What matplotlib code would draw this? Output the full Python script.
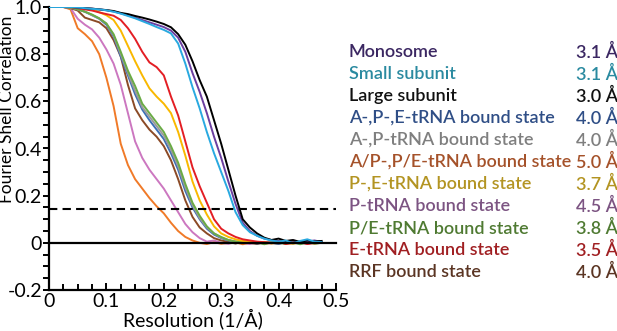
import numpy as np
import matplotlib
matplotlib.use("Agg")
import matplotlib.pyplot as plt

plt.rcParams['font.family'] = ['Lato', 'DejaVu Sans']

# resolution grid (1/A), FSC values
resolution = np.linspace(0, 0.475, 39)

fsc_monosome = [1.0, 1.0, 1.0, 1.0, .998, .995, .993, .99, .986, .981, .973, .965, .955, .945, .935, .925,
                .915, .90, .87, .81, .72, .64, .55, .45, .36, .26, .165, .085, .05, .03, .018, .012, .008,
                .004, .01, .002, .006, .01, .004]
fsc_small = [1.0, 1.0, 1.0, 1.0, .998, .995, .992, .99, .986, .98, .972, .962, .952, .94, .928, .915,
             .903, .888, .845, .76, .66, .57, .47, .38, .30, .22, .13, .075, .045, .03, .018, .01, .005,
             .01, -.002, .008, .015, .005, .003]
fsc_large = [1.0, 1.0, 1.0, 1.0, .998, .995, .993, .99, .987, .983, .975, .97, .962, .955, .947, .938,
             .928, .914, .885, .84, .77, .69, .62, .52, .42, .31, .20, .10, .065, .04, .022, .012, .018,
             .008, .012, .004, .01, .006, .008]
fsc_ape = [1.0, 1.0, 1.0, .998, .99, .98, .965, .95, .925, .875, .79, .71, .63, .565, .52, .48, .44, .38,
           .31, .22, .15, .10, .06, .035, .02, .01, .005, .0, .004, -.003, .002, .0, -.004, .002, .0,
           -.003, .001, .0, .002]
fsc_ap = [1.0, 1.0, 1.0, .998, .99, .98, .966, .952, .93, .88, .80, .72, .645, .575, .535, .495, .455,
          .395, .325, .235, .16, .105, .065, .04, .022, .012, .006, .002, .005, .0, -.004, .003, .0,
          -.002, .004, .0, -.003, .002, .0]
fsc_appe = [1.0, 1.0, 1.0, .99, .91, .885, .855, .80, .70, .58, .42, .33, .27, .23, .19, .155, .125,
            .085, .05, .025, .01, .0, -.005, .003, -.004, .0, .002, -.006, .0, .003, -.004, .0, .002,
            -.003, .0, .003, -.002, .0, .001]
fsc_pe = [1.0, 1.0, 1.0, 1.0, .997, .993, .99, .978, .965, .945, .90, .835, .77, .71, .655, .62, .59,
          .55, .47, .37, .26, .18, .12, .07, .04, .025, .015, .008, .005, .0, .004, -.003, .002, .0,
          -.004, .003, .0, -.002, .001]
fsc_p = [1.0, 1.0, 1.0, .995, .95, .925, .905, .87, .82, .76, .67, .55, .43, .36, .31, .27, .23, .18,
         .13, .08, .045, .02, .005, .01, .0, -.004, .003, .0, -.005, .002, .0, -.003, .004, .0, -.002,
         .003, -.004, .0, .002]
fsc_pe_hybrid = [1.0, 1.0, 1.0, .998, .99, .98, .968, .952, .93, .885, .81, .73, .665, .59, .55, .51,
                 .47, .41, .34, .25, .17, .115, .07, .04, .025, .012, .005, .008, .0, .004, -.006, .002,
                 .0, -.004, .003, -.006, .002, -.003, .0]
fsc_e = [1.0, 1.0, 1.0, 1.0, .995, .99, .985, .977, .97, .963, .945, .91, .865, .81, .765, .745, .71,
         .62, .54, .43, .32, .24, .17, .10, .06, .04, .025, .015, .01, .005, .003, .0, .005, -.005, .0,
         .003, -.005, .0, .002]
fsc_rrf = [1.0, 1.0, 1.0, .995, .985, .955, .945, .935, .91, .86, .79, .67, .57, .52, .48, .45, .41,
           .35, .27, .18, .11, .065, .04, .02, .01, .004, -.003, .005, .0, -.005, .002, .0, -.004, .003,
           -.002, .0, .004, -.003, .0]

labels = ['Monosome', 'Small subunit', 'Large subunit', 'A-,P-,E-tRNA bound state',
          'A-,P-tRNA bound state', 'A/P-,P/E-tRNA bound state', 'P-,E-tRNA bound state',
          'P-tRNA bound state', 'P/E-tRNA bound state', 'E-tRNA bound state', 'RRF bound state']
resolutions = ['3.1 Å', '3.1 Å', '3.0 Å', '4.0 Å', '4.0 Å', '5.0 Å', '3.7 Å', '4.5 Å', '3.8 Å',
               '3.5 Å', '4.0 Å']
curves = [fsc_monosome, fsc_small, fsc_large, fsc_ape, fsc_ap, fsc_appe, fsc_pe, fsc_p,
          fsc_pe_hybrid, fsc_e, fsc_rrf]
line_colors = ['#6b3fa0', '#29a9e0', '#000000', '#3d6fb6', '#9a9a9a', '#f07a28', '#f9b800',
               '#cc77c0', '#6aab45', '#e31e24', '#8b4a26']
text_colors = ['#3b2762', '#2a8aa0', '#111111', '#2f4e86', '#7f7f7f', '#a5522a', '#b39422',
               '#7c5482', '#4f7a32', '#a01f22', '#5b3523']

xticks = [0, 0.1, 0.2, 0.3, 0.4, 0.5]
xticklabels = ['0', '0.1', '0.2', '0.3', '0.4', '0.5']
yticks = [-0.2, 0, 0.2, 0.4, 0.6, 0.8, 1.0]
yticklabels = ['-0.2', '0', '0.2', '0.4', '0.6', '0.8', '1.0']

fig = plt.figure(figsize=(6.17, 3.31), dpi=100)
ax = fig.add_axes([49 / 617, 41 / 331, 287 / 617, 283 / 331])

# draw order: lower-resolution states first, subunits on top
order = [5, 7, 10, 3, 4, 8, 6, 9, 0, 2, 1]
for i in order:
    ax.plot(resolution, curves[i], color=line_colors[i], lw=1.4, zorder=3)

ax.plot([0, 0.5], [0, 0], color='black', lw=1.6, zorder=4, clip_on=False)
ax.plot([0, 0.5], [0.143, 0.143], color='black', lw=1.5, ls=(0, (4, 2.5)), zorder=4, clip_on=False)

ax.set_xlim(0, 0.5)
ax.set_ylim(-0.2, 1.0)
ax.set_xticks(xticks)
ax.set_xticklabels(xticklabels)
ax.set_xticks(np.arange(0, 0.501, 0.025), minor=True)
ax.set_yticks(yticks)
ax.set_yticklabels(yticklabels)
ax.set_yticks(np.arange(-0.2, 1.001, 0.05), minor=True)

for s in ['top', 'right']:
    ax.spines[s].set_visible(False)
for s in ['left', 'bottom']:
    ax.spines[s].set_linewidth(1.6)

ax.tick_params(axis='y', which='both', direction='out', width=1.4, length=4, labelsize=14, pad=1)
ax.tick_params(axis='x', which='both', direction='in', width=1.4, labelsize=14, pad=2)
ax.tick_params(axis='x', which='major', length=5)
ax.tick_params(axis='x', which='minor', length=4)

ax.set_xlabel('Resolution (1/Å)', fontsize=14, labelpad=-1)
ax.set_ylabel('Fourier Shell Correlation', fontsize=12.5)
ax.yaxis.set_label_coords(-0.118, 0.64)

# legend-style text block on the right
for k, (lab, r, c) in enumerate(zip(labels, resolutions, text_colors)):
    y = 1 - (52 + 22 * k) / 331
    fig.text(349 / 617, y, lab, color=c, fontsize=13, fontweight='semibold', va='center', ha='left')
    fig.text(576 / 617, y, r, color=c, fontsize=13, fontweight='semibold', va='center', ha='left')

fig.savefig('out.png', dpi=100)
